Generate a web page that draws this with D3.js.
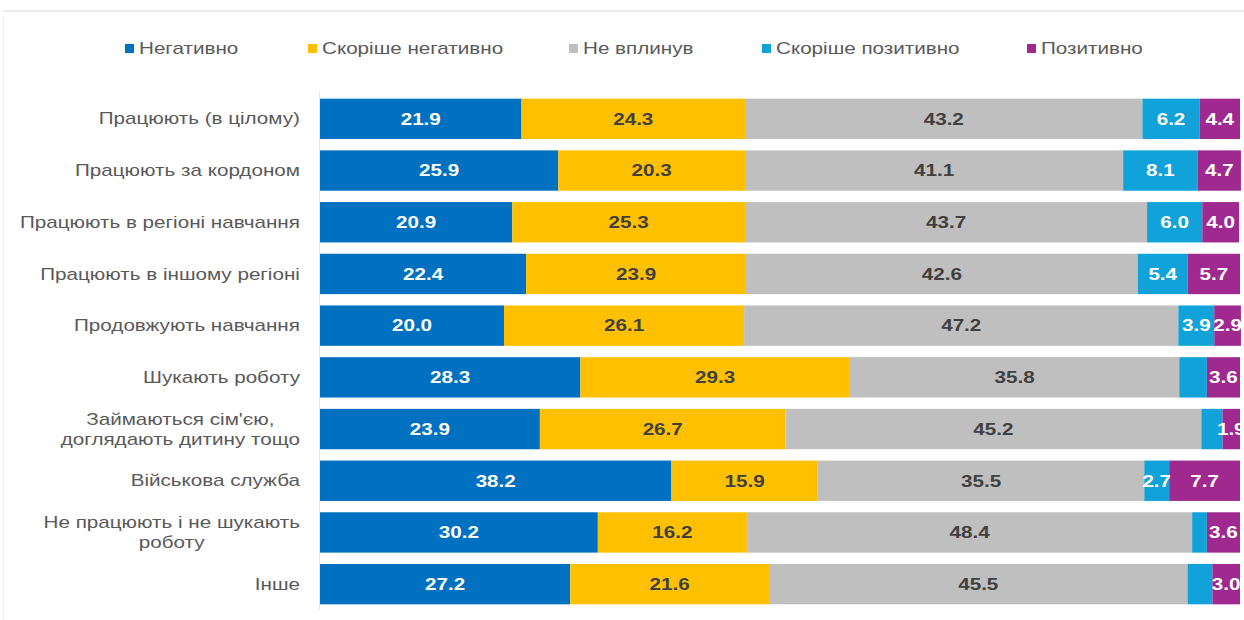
<!DOCTYPE html>
<html><head><meta charset="utf-8">
<script src="https://cdn.jsdelivr.net/npm/d3@7"></script>
<style>body{margin:0;background:#fff}svg{display:block}</style>
</head><body>
<svg id="c" width="1244" height="620"></svg>
<script>
const categories = [
  ["Працюють (в цілому)"],
  ["Працюють за кордоном"],
  ["Працюють в регіоні навчання"],
  ["Працюють в іншому регіоні"],
  ["Продовжують навчання"],
  ["Шукають роботу"],
  ["Займаються сім'єю,", "доглядають дитину тощо"],
  ["Військова служба"],
  ["Не працюють і не шукають", "роботу"],
  ["Інше"]
];
const seriesNames = ["Негативно", "Скоріше негативно", "Не вплинув", "Скоріше позитивно", "Позитивно"];
const negative     = [21.9, 25.9, 20.9, 22.4, 20.0, 28.3, 23.9, 38.2, 30.2, 27.2];
const ratherNeg    = [24.3, 20.3, 25.3, 23.9, 26.1, 29.3, 26.7, 15.9, 16.2, 21.6];
const noEffect     = [43.2, 41.1, 43.7, 42.6, 47.2, 35.8, 45.2, 35.5, 48.4, 45.5];
const ratherPos    = [6.2, 8.1, 6.0, 5.4, 3.9, 3.0, 2.3, 2.7, 1.6, 2.7];
const positive     = [4.4, 4.7, 4.0, 5.7, 2.9, 3.6, 1.9, 7.7, 3.6, 3.0];
// which "rather positive" values carry a printed label
const ratherPosShown = [true, true, true, true, true, false, false, true, false, false];
const colors = ["#0070C0", "#FFC000", "#BFBFBF", "#10A2D8", "#A0298F"];
const labelColors = ["#ffffff", "#404040", "#404040", "#ffffff", "#ffffff"];

const series = [negative, ratherNeg, noEffect, ratherPos, positive];
const SX = 1.29; // horizontal stretch of the text in the original picture
const FONT = "Liberation Sans, Arial, sans-serif";
const svg = d3.select("#c");

// faint frame
svg.append("line").attr("x1",3.5).attr("x2",1244).attr("y1",11).attr("y2",11).attr("stroke","#ececec").attr("stroke-width",2);
svg.append("line").attr("x1",3.5).attr("x2",3.5).attr("y1",11).attr("y2",620).attr("stroke","#f0f0f0").attr("stroke-width",1);

const x = d3.scaleLinear().domain([0,100]).range([320,1240]);
const y = d3.scaleBand().domain(d3.range(categories.length)).range([93,610]).paddingInner(0.2).paddingOuter(0.1);

svg.append("line").attr("x1",319.5).attr("x2",319.5).attr("y1",91).attr("y2",610).attr("stroke","#e6e6e6");

const rows = categories.map((c,i)=>{
  let acc=0;
  return series.map((s,k)=>{const d={i,k,x0:acc,x1:acc+s[i],v:s[i]};acc+=s[i];return d;});
});
const g = svg.append("g");
rows.forEach(r=>{
  g.selectAll(null).data(r).enter().append("rect")
    .attr("x",d=>x(d.x0)).attr("width",d=>x(d.x1)-x(d.x0))
    .attr("y",d=>y(d.i)+0.5).attr("height",y.bandwidth()-1)
    .attr("fill",d=>colors[d.k]);
});
rows.forEach(r=>{
  g.selectAll(null).data(r.filter(d=>!(d.k===3 && !ratherPosShown[d.i]))).enter().append("text")
    .attr("transform",d=>`translate(${(x(d.x0)+x(d.x1))/2},${y(d.i)+y.bandwidth()/2}) scale(${SX},1)`)
    .attr("dy","0.36em").attr("text-anchor","middle")
    .attr("fill",d=>labelColors[d.k]).attr("font-family",FONT)
    .attr("font-size",16).attr("font-weight","bold")
    .text(d=>d.v.toFixed(1));
});

// category labels
const lab = svg.append("g").attr("font-family",FONT).attr("font-size",16).attr("fill","#595959");
categories.forEach((lines,i)=>{
  const cy = y(i)+y.bandwidth()/2;
  const ts = lines.map((t,j)=>lab.append("text").attr("dy","0.35em").attr("text-anchor","middle").text(t));
  const w = d3.max(ts,t=>t.node().getComputedTextLength())*SX;
  ts.forEach((t,j)=>t.attr("transform",`translate(${300-w/2},${cy+(j-(lines.length-1)/2)*20}) scale(${SX},1)`));
});

// legend
const legX = [125, 308, 569, 762, 1027];
const leg = svg.append("g").attr("font-family",FONT).attr("font-size",16).attr("fill","#595959");
seriesNames.forEach((n,k)=>{
  leg.append("rect").attr("x",legX[k]).attr("y",44).attr("width",9).attr("height",9).attr("fill",colors[k]);
  leg.append("text").attr("transform",`translate(${legX[k]+14},48.5) scale(${SX},1)`).attr("dy","0.35em").text(n);
});
</script>
</body></html>
